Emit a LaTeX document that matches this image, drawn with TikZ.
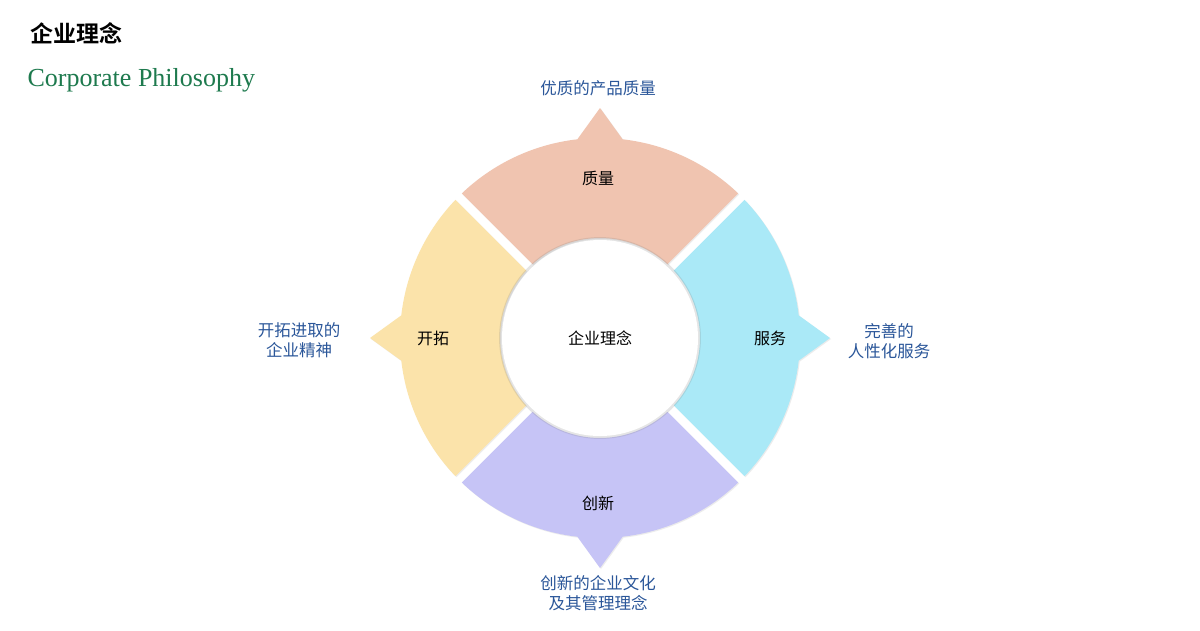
\documentclass[tikz,border=0pt]{standalone}
\usepackage{fontspec}
\setmainfont{Liberation Serif}
\newfontfamily\cjk{Noto Sans CJK SC}
\newfontfamily\cjkserif{Noto Sans CJK SC}[BoldFont={Noto Sans CJK SC Bold}]
\usetikzlibrary{shadows}
\definecolor{cq}{HTML}{F0C4B0}
\definecolor{cs}{HTML}{AAE9F7}
\definecolor{cc}{HTML}{C6C4F6}
\definecolor{ck}{HTML}{FBE3AA}
\definecolor{lbl}{HTML}{2A5699}
\definecolor{grn}{HTML}{1E7A4E}
\tikzset{
 inlbl/.style={font=\cjk\fontsize{16}{18}\selectfont,text=black},
 outlbl/.style={font=\cjk\fontsize{16.5}{20}\selectfont,text=lbl,align=center},
}
\newcommand{\mysegment}[3]{% start, end, color
 \pgfmathsetmacro{\mm}{(#1+#2)/2}
 \fill[#3,drop shadow={opacity=0.15,shadow xshift=1pt,shadow yshift=-1pt}]
 (#1+1.3:200) arc[start angle=#1+1.3,end angle=\mm-6.5,radius=200] -- (\mm:230) -- (\mm+6.5:200)
 arc[start angle=\mm+6.5,end angle=#2-1.3,radius=200] -- (#2-2.6:100)
 arc[start angle=#2-2.6,end angle=#1+2.6,radius=100] -- cycle;}
\begin{document}
\begin{tikzpicture}[x=1pt,y=1pt]
\useasboundingbox (0,0) rectangle (1200,-630);
\fill[white] (0,0) rectangle (1200,-630);
\node[anchor=west,font=\cjkserif\bfseries\fontsize{23}{25}\selectfont] (title) at (27,-33) {企业理念};
\node[anchor=west,text=grn,font=\fontsize{26}{28}\selectfont] (sub) at (24,-80) {Corporate Philosophy};
\begin{scope}[shift={(600,-338)}]
\mysegment{45}{135}{cq}
\mysegment{135}{225}{ck}
\mysegment{225}{315}{cc}
\mysegment{-45}{45}{cs}
\fill[white,drop shadow={opacity=0.2,shadow xshift=0pt,shadow yshift=0pt,shadow scale=1.03}] (0,0) circle (98);
\node[inlbl] (center) at (0,0) {企业理念};
\node[inlbl] (zl) at (-2,160) {质量};
\node[inlbl] (fw) at (170,0) {服务};
\node[inlbl] (cx) at (-2,-165) {创新};
\node[inlbl] (kt) at (-167,0) {开拓};
\node[outlbl] (o1) at (-2,250) {优质的产品质量};
\node[outlbl] (o2) at (289,-3) {完善的\\人性化服务};
\node[outlbl] (o3) at (-301,-2) {开拓进取的\\企业精神};
\node[outlbl] (o4) at (-2,-255) {创新的企业文化\\及其管理理念};
\end{scope}
\end{tikzpicture}
\end{document}
